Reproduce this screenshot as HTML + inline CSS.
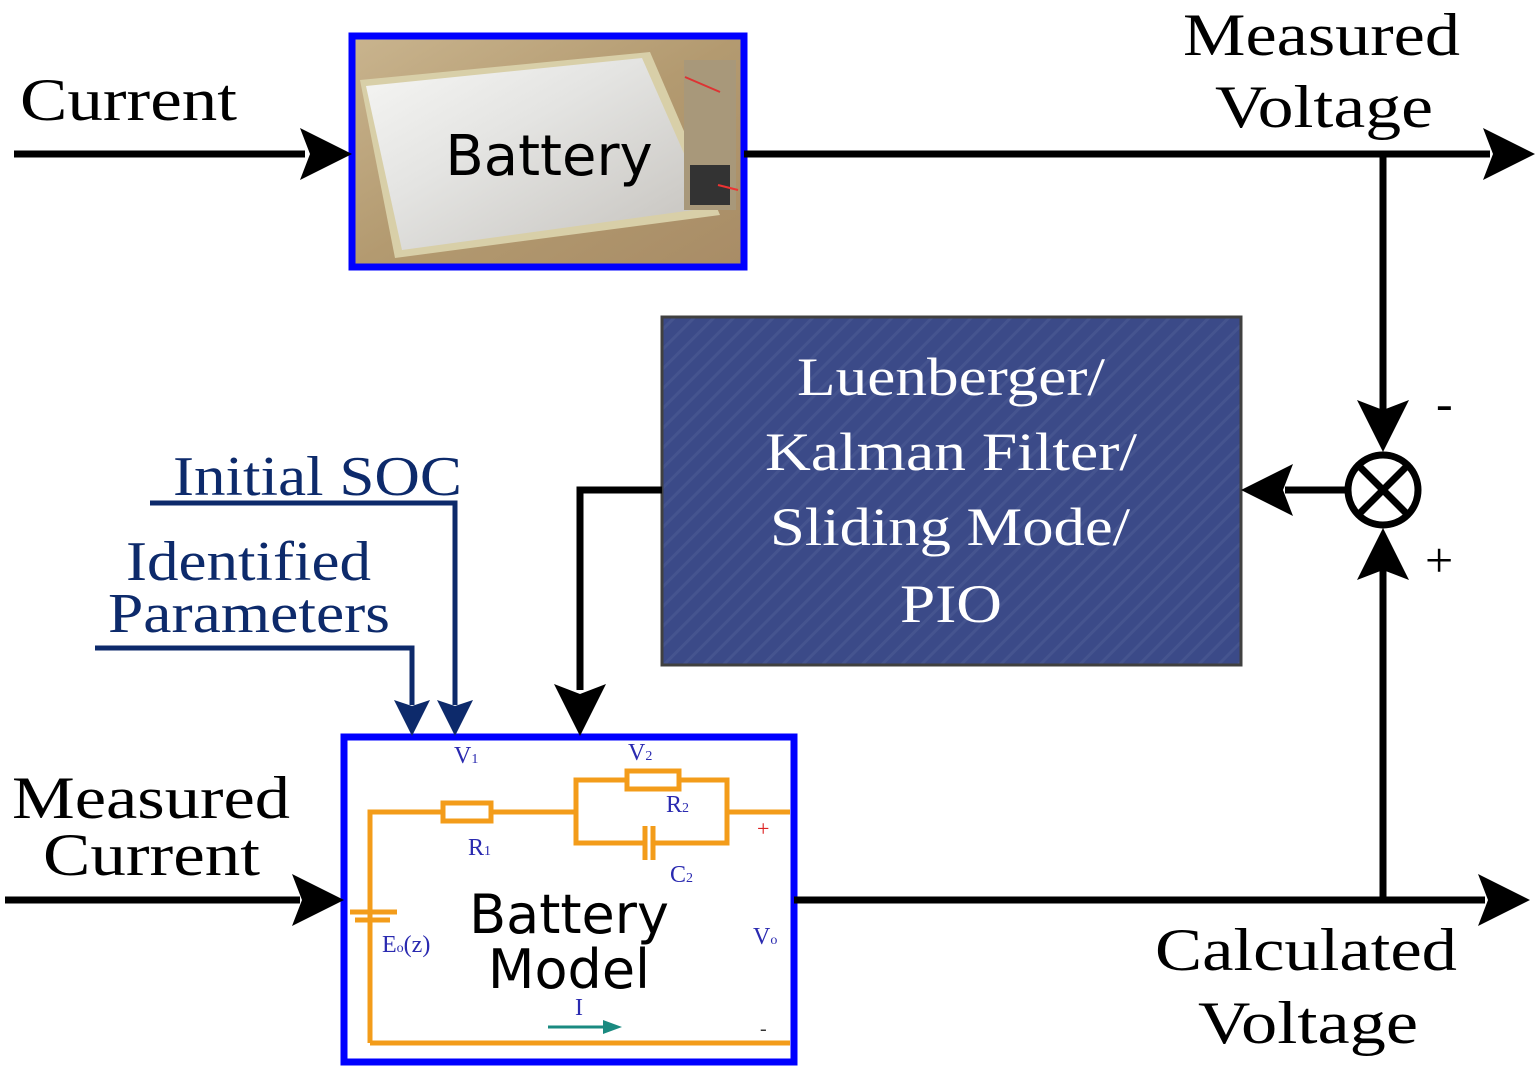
<!DOCTYPE html>
<html><head><style>
html,body{margin:0;padding:0;background:#fff;}
svg{display:block;}
.s{font-family:"Liberation Serif",serif;}
.d{font-family:"DejaVu Sans","Liberation Sans",sans-serif;}
</style></head><body>
<svg width="1538" height="1070" viewBox="0 0 1538 1070" xmlns="http://www.w3.org/2000/svg">
<defs>
<linearGradient id="bg" x1="0" y1="0" x2="1" y2="1">
<stop offset="0" stop-color="#c9b48e"/><stop offset="0.5" stop-color="#b39a70"/><stop offset="1" stop-color="#a88c66"/>
</linearGradient>
<linearGradient id="sil" x1="0" y1="0" x2="1" y2="1">
<stop offset="0" stop-color="#f6f6f4"/><stop offset="0.4" stop-color="#e4e4e2"/><stop offset="1" stop-color="#c4c1bc"/>
</linearGradient>
<pattern id="hatch" width="14" height="14" patternUnits="userSpaceOnUse" patternTransform="rotate(45)">
<rect width="14" height="14" fill="#3b4a88"/><rect width="3" height="14" fill="#45548f"/>
</pattern>
</defs>

<!-- Battery photo -->
<rect x="352" y="36" width="392" height="231" fill="url(#bg)"/>
<polygon points="360,80 650,52 720,215 395,258" fill="#d8cfa8"/>
<polygon points="366,86 642,58 708,208 402,250" fill="url(#sil)"/>
<rect x="684" y="60" width="52" height="150" fill="#a8987a"/>
<rect x="690" y="165" width="40" height="40" fill="#333"/>
<line x1="685" y1="77" x2="720" y2="92" stroke="#d33" stroke-width="2"/>
<line x1="718" y1="185" x2="738" y2="190" stroke="#e33" stroke-width="2"/>
<rect x="352" y="36" width="392" height="231" fill="none" stroke="#0000ff" stroke-width="7"/>
<text x="549" y="175" text-anchor="middle" class="d" font-size="56">Battery</text>

<!-- Battery model -->
<rect x="344" y="737" width="450" height="325" fill="#fff" stroke="#0000ff" stroke-width="7"/>
<g stroke="#f39c1a" stroke-width="5" fill="none">
<path d="M370,1043 V812 H443 M491,812 H576 V780 H627 M679,780 H727 V843 H653 M645,843 H576 V812 M727,812 H790 M370,1043 H790"/>
<rect x="443" y="803" width="48" height="18"/>
<rect x="627" y="771" width="52" height="18"/>
<line x1="645" y1="826" x2="645" y2="860"/><line x1="653" y1="826" x2="653" y2="860"/>
<line x1="350" y1="912" x2="397" y2="912"/><line x1="355" y1="920" x2="390" y2="920"/>
</g>
<g class="s" fill="#2a2ab0" font-size="24">
<text x="454" y="763">V<tspan font-size="14">1</tspan></text>
<text x="628" y="760">V<tspan font-size="14">2</tspan></text>
<text x="666" y="812">R<tspan font-size="14">2</tspan></text>
<text x="468" y="855">R<tspan font-size="14">1</tspan></text>
<text x="670" y="882">C<tspan font-size="14">2</tspan></text>
<text x="382" y="952">E<tspan font-size="14">o</tspan>(z)</text>
<text x="753" y="944">V<tspan font-size="14">o</tspan></text>
<text x="575" y="1015">I</text>
</g>
<text x="757" y="836" fill="#d22" font-size="22" class="s">+</text>
<text x="760" y="1035" fill="#333" font-size="20" class="s">-</text>
<line x1="548" y1="1027" x2="605" y2="1027" stroke="#1a8a80" stroke-width="3"/>
<polygon points="622,1027 603,1020 603,1034" fill="#1a8a80"/>
<text x="569" y="933" text-anchor="middle" class="d" font-size="54">Battery</text>
<text x="569" y="988" text-anchor="middle" class="d" font-size="54">Model</text>

<!-- Filter box -->
<rect x="662" y="317" width="579" height="348" fill="url(#hatch)" stroke="#404040" stroke-width="3"/>
<g class="s" fill="#fff" font-size="54">
<text x="797" y="395" textLength="308" lengthAdjust="spacingAndGlyphs">Luenberger/</text>
<text x="765" y="470" textLength="372" lengthAdjust="spacingAndGlyphs">Kalman Filter/</text>
<text x="770" y="545" textLength="360" lengthAdjust="spacingAndGlyphs">Sliding Mode/</text>
<text x="900" y="622" textLength="102" lengthAdjust="spacingAndGlyphs">PIO</text>
</g>

<!-- Black connectors -->
<g stroke="#000" stroke-width="7" fill="none">
<line x1="14" y1="154" x2="305" y2="154"/>
<line x1="744" y1="154" x2="1490" y2="154"/>
<line x1="1383" y1="154" x2="1383" y2="410"/>
<line x1="1348" y1="490" x2="1285" y2="490"/>
<polyline points="662,490 580,490 580,690"/>
<line x1="5" y1="900" x2="300" y2="900"/>
<line x1="794" y1="900" x2="1485" y2="900"/>
<line x1="1383" y1="900" x2="1383" y2="570"/>
<circle cx="1383" cy="490" r="35" stroke-width="7"/>
<line x1="1358" y1="465" x2="1408" y2="515"/><line x1="1408" y1="465" x2="1358" y2="515"/>
</g>
<g fill="#000">
<polygon points="352,154 300,128 310,154 300,180"/>
<polygon points="1535,154 1483,128 1493,154 1483,180"/>
<polygon points="1383,452 1357,400 1383,410 1409,400"/>
<polygon points="1241,490 1293,464 1283,490 1293,516"/>
<polygon points="580,736 554,684 580,694 606,684"/>
<polygon points="344,900 292,874 302,900 292,926"/>
<polygon points="1530,900 1478,874 1488,900 1478,926"/>
<polygon points="1383,528 1357,580 1383,570 1409,580"/>
</g>

<!-- Blue connectors -->
<g stroke="#0d2a6b" stroke-width="5" fill="none">
<polyline points="150,503 455,503 455,705"/>
<polyline points="95,648 412,648 412,705"/>
</g>
<g fill="#0d2a6b">
<polygon points="455,736 437,700 455,706 473,700"/>
<polygon points="412,736 394,700 412,706 430,700"/>
</g>
<g class="s" fill="#0d2a6b" font-size="56">
<text x="173" y="495" textLength="289" lengthAdjust="spacingAndGlyphs">Initial SOC</text>
<text x="126" y="580" textLength="245" lengthAdjust="spacingAndGlyphs">Identified</text>
<text x="108" y="632" textLength="282" lengthAdjust="spacingAndGlyphs">Parameters</text>
</g>

<!-- Black labels -->
<g class="s" fill="#000" font-size="60">
<text x="20" y="120" textLength="217" lengthAdjust="spacingAndGlyphs">Current</text>
<text x="1183" y="55" textLength="277" lengthAdjust="spacingAndGlyphs">Measured</text>
<text x="1215" y="127" textLength="218" lengthAdjust="spacingAndGlyphs">Voltage</text>
<text x="12" y="818" textLength="278" lengthAdjust="spacingAndGlyphs">Measured</text>
<text x="43" y="875" textLength="217" lengthAdjust="spacingAndGlyphs">Current</text>
<text x="1155" y="970" textLength="302" lengthAdjust="spacingAndGlyphs">Calculated</text>
<text x="1198" y="1043" textLength="220" lengthAdjust="spacingAndGlyphs">Voltage</text>
</g>
<text x="1436" y="420" class="s" font-size="50">-</text>
<text x="1425" y="577" class="s" font-size="50">+</text>
</svg>
</body></html>
